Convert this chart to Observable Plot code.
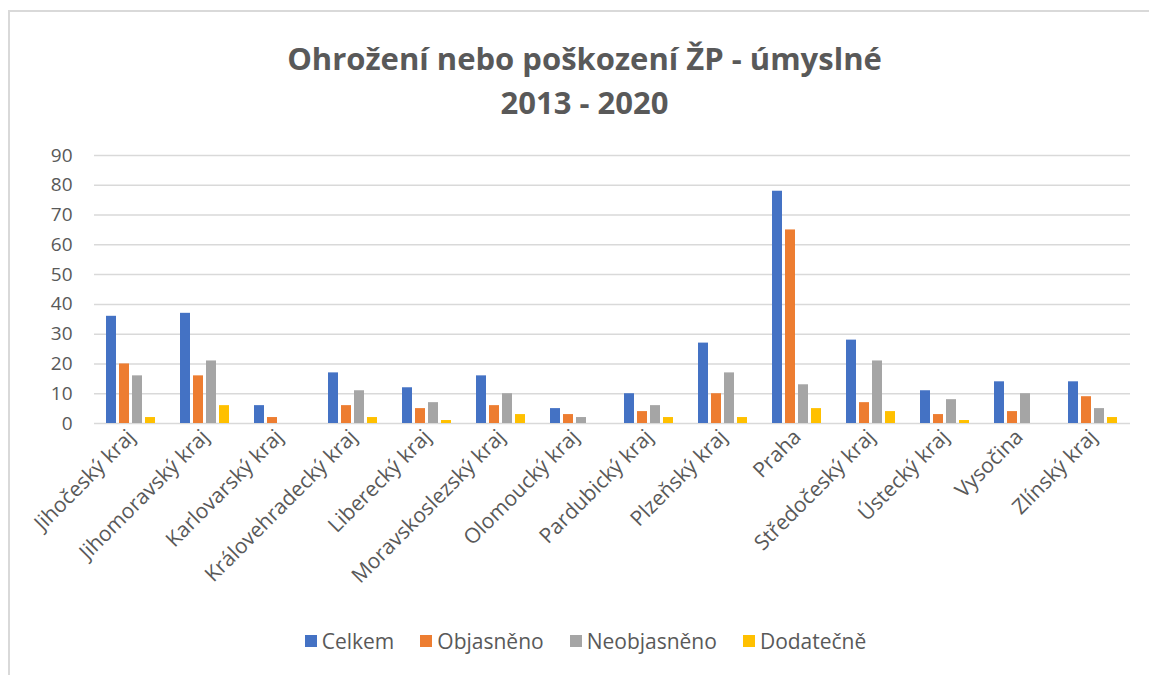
<!DOCTYPE html>
<html><head><meta charset="utf-8">
<script src="https://cdn.jsdelivr.net/npm/d3@7"></script>
<script src="https://cdn.jsdelivr.net/npm/@observablehq/plot@0.6"></script>
<style>
body{margin:0;background:#fff;font-family:"Open Sans",sans-serif;}
#wrap{position:relative;width:1149px;height:675px;overflow:hidden;background:#fff;}
#frame{position:absolute;left:8px;top:10px;width:1300px;height:900px;border-left:2px solid #d9d9d9;border-top:2px solid #d9d9d9;}
#title{position:absolute;top:36px;left:10px;width:1149px;text-align:center;color:#595959;font-weight:700;font-size:31px;line-height:44px;}
#chart{position:absolute;left:0;top:140px;}
#chart svg{overflow:visible;}
#legend{position:absolute;top:627px;left:11px;width:1149px;display:flex;justify-content:center;gap:26px;color:#595959;font-size:21px;}
#legend .it{display:flex;align-items:center;gap:5px;}
#legend .sw{width:12px;height:12px;display:inline-block;}
</style></head>
<body>
<div id="wrap">
  <div id="frame"></div>
  <div id="title">Ohrožení nebo poškození ŽP - úmyslné<br>2013 - 2020</div>
  <div id="chart"></div>
  <div id="legend"></div>
</div>
<script>
const regions = ["Jihočeský kraj","Jihomoravský kraj","Karlovarský kraj","Královehradecký kraj","Liberecký kraj","Moravskoslezský kraj","Olomoucký kraj","Pardubický kraj","Plzeňský kraj","Praha","Středočeský kraj","Ústecký kraj","Vysočina","Zlínský kraj"];
const series = ["Celkem","Objasněno","Neobjasněno","Dodatečně"];
const celkem      = [36,37,6,17,12,16,5,10,27,78,28,11,14,14];
const objasneno   = [20,16,2,6,5,6,3,4,10,65,7,3,4,9];
const neobjasneno = [16,21,0,11,7,10,2,6,17,13,21,8,10,5];
const dodatecne   = [2,6,0,2,1,3,0,2,2,5,4,1,0,2];
const colors = ["#4472C4","#ED7D31","#A5A5A5","#FFC000"];
const yTicks = [0,10,20,30,40,50,60,70,80,90];

const seriesValues = [celkem, objasneno, neobjasneno, dodatecne];
const data = regions.flatMap((r, i) => seriesValues.map((arr, j) => ({region: r, series: series[j], value: arr[i]})));

const chart = Plot.plot({
  width: 1149, height: 453,
  marginLeft: 92, marginRight: 18, marginTop: 15, marginBottom: 170,
  style: {fontFamily: "Open Sans", color: "#595959", background: "transparent", overflow: "visible"},
  fx: {domain: regions, padding: 0, label: null},
  x: {domain: series, axis: null, paddingInner: 0.22, paddingOuter: 0.95},
  y: {domain: [0, 90], label: null},
  color: {domain: series, range: colors},
  marks: [
    Plot.gridY({ticks: yTicks, stroke: "#d9d9d9", strokeOpacity: 1, strokeWidth: 1.5}),
    Plot.axisY({ticks: yTicks, tickSize: 0, tickPadding: 22, fontSize: 19, label: null, anchor: "left"}),
    Plot.axisFx({anchor: "bottom", tickRotate: -45, tickSize: 0, tickPadding: 10, fontSize: 21, label: null}),
    Plot.barY(data, {fx: "region", x: "series", y: "value", fill: "series"})
  ]
});
document.getElementById("chart").appendChild(chart);

const legend = document.getElementById("legend");
series.forEach((s, i) => {
  const it = document.createElement("div");
  it.className = "it";
  it.innerHTML = `<span class="sw" style="background:${colors[i]}"></span><span>${s}</span>`;
  legend.appendChild(it);
});
</script>
</body></html>
